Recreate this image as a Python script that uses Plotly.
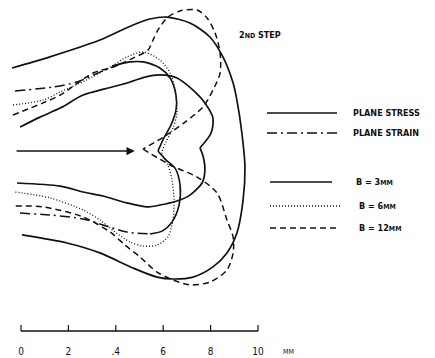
import plotly.graph_objects as go

# ---- data (mm; x from scale origin, y from crack line) ----
outer_x = [-0.38, 1.22, 3.33, 4.73, 5.44, 6.16, 7.13, 7.97, 8.52, 8.95, 9.11, 9.32, 9.45, 9.37, 9.11, 8.69, 8.10, 7.26, 6.41, 5.74, 4.73, 3.33, 1.94, 0.04]
outer_y = [3.50, 3.97, 4.68, 5.32, 5.57, 5.65, 5.40, 4.81, 3.97, 2.87, 2.15, 0.76, -0.68, -2.07, -3.46, -4.30, -4.89, -5.32, -5.40, -5.32, -4.94, -4.30, -3.88, -3.54]

inner_up_x = [-0.04, 0.80, 1.65, 2.62, 3.54, 4.47, 5.23, 5.86, 6.58, 7.26, 7.76, 8.10, 8.02, 7.55]
inner_up_y = [1.01, 1.43, 1.81, 2.36, 2.62, 2.87, 3.12, 3.21, 3.08, 2.57, 2.03, 1.39, 0.76, 0.13]
inner_lo_x = [7.55, 7.68, 7.76, 7.64, 7.13, 6.58, 5.86, 5.32, 4.47, 3.46, 2.62, 1.65, -0.17]
inner_lo_y = [0.13, -0.21, -0.80, -1.35, -1.86, -2.11, -2.28, -2.36, -2.19, -1.90, -1.73, -1.48, -1.35]

b3_up_x = [3.84, 4.60, 5.15, 5.86, 6.29, 6.54, 6.54, 6.33, 6.03, 5.78]
b3_up_y = [3.59, 3.76, 3.76, 3.50, 3.08, 2.36, 1.73, 1.10, 0.55, 0.00]
b3_lo_x = [5.78, 6.12, 6.50, 6.71, 6.67, 6.37, 5.95, 5.44]
b3_lo_y = [0.00, -0.38, -0.72, -1.43, -2.28, -3.00, -3.38, -3.50]

strain_up_x = [-0.25, 1.35, 2.36, 3.33, 4.18]
strain_up_y = [2.53, 2.70, 2.91, 3.33, 3.67]
strain_lo_x = [-0.04, 1.22, 2.62, 3.46, 4.47, 5.44]
strain_lo_y = [-2.62, -2.70, -2.87, -3.12, -3.42, -3.50]

b6_x = [-0.34, 0.93, 1.65, 2.78, 3.76, 4.47, 5.15, 5.86, 6.29, 6.50, 6.58, 6.41, 6.12, 5.95, 6.20, 6.37, 6.46, 6.41, 6.20, 5.74, 5.15, 4.60, 3.97, 3.33, 2.62, 1.22, -0.25]
b6_y = [1.94, 2.15, 2.49, 3.00, 3.54, 3.97, 4.18, 3.84, 3.29, 2.57, 1.60, 0.97, 0.38, -0.08, -0.59, -1.22, -2.07, -2.91, -3.63, -3.97, -4.01, -3.84, -3.42, -2.91, -2.49, -1.98, -1.73]

b12_up_x = [-0.34, 0.93, 1.65, 3.04, 3.88, 4.73, 5.36, 5.57, 5.78, 6.20, 6.71, 7.43, 7.85, 8.19, 8.40, 8.40, 8.10, 7.68, 6.92, 6.08, 5.15]
b12_up_y = [1.52, 2.03, 2.36, 3.29, 3.54, 3.92, 4.26, 4.68, 5.11, 5.65, 5.91, 5.95, 5.61, 4.98, 4.14, 3.29, 2.57, 1.86, 1.22, 0.63, 0.08]
b12_lo_x = [5.15, 6.29, 7.43, 8.27, 8.69, 8.95, 8.95, 8.69, 7.97, 7.13, 6.41, 5.74, 5.02, 4.39, 3.76, 2.62, 0.93, -0.25]
b12_lo_y = [0.08, -0.59, -1.10, -1.77, -2.91, -3.63, -4.30, -5.02, -5.53, -5.65, -5.44, -5.11, -4.47, -3.97, -3.42, -2.78, -2.36, -2.32]

crack_x = [-0.25, 4.80]
crack_y = [0.0, 0.0]

scale_ticks = [0, 2, 4, 6, 8, 10]
scale_labels = ["0", "2", ".4", "6", "8", "10"]
scale_unit = "MM"

legend_labels = ["PLANE STRESS", "PLANE STRAIN", "B = 3<span style='font-size:7px'>MM</span>",
                 "B = 6<span style='font-size:7px'>MM</span>", "B = 12<span style='font-size:7px'>MM</span>"]
title_text = "2<span style='font-size:7px'>ND</span> STEP"

INK = "#111111"
FONT = "Liberation Sans Narrow, DejaVu Sans Condensed, Arial Narrow, sans-serif"

fig = go.Figure()

def add(x, y, dash="solid", w=1.6, smooth=0.8):
    fig.add_trace(go.Scatter(x=x, y=y, mode="lines",
                             line=dict(color=INK, width=w, dash=dash, shape="spline", smoothing=smooth),
                             hoverinfo="skip", showlegend=False))

add(outer_x, outer_y, w=1.7)
add(inner_up_x, inner_up_y, w=1.7)
add(inner_lo_x, inner_lo_y, w=1.7)
add(b3_up_x, b3_up_y, w=1.6)
add(b3_lo_x, b3_lo_y, w=1.6)
add(strain_up_x, strain_up_y, dash="10px,4px,2px,4px", w=1.5)
add(strain_lo_x, strain_lo_y, dash="10px,4px,2px,4px", w=1.5)
add(b6_x, b6_y, dash="1px,2px", w=1.3)
add(b12_up_x, b12_up_y, dash="6px,4px", w=1.5)
add(b12_lo_x, b12_lo_y, dash="6px,4px", w=1.5)

# crack with arrow
fig.add_annotation(x=crack_x[1], y=crack_y[1], ax=crack_x[0], ay=crack_y[0],
                   xref="x", yref="y", axref="x", ayref="y", text="",
                   showarrow=True, arrowhead=2, arrowsize=1.1, arrowwidth=1.5, arrowcolor=INK)

# scale bar
bar_y = -7.59
tick_top = -7.34
label_y = -8.5
fig.add_trace(go.Scatter(x=[scale_ticks[0], scale_ticks[-1]], y=[bar_y, bar_y], mode="lines",
                         line=dict(color=INK, width=1.5), hoverinfo="skip", showlegend=False))
for t in scale_ticks:
    fig.add_trace(go.Scatter(x=[t, t], y=[bar_y, tick_top], mode="lines",
                             line=dict(color=INK, width=1.2), hoverinfo="skip", showlegend=False))
fig.add_trace(go.Scatter(x=scale_ticks, y=[label_y] * len(scale_ticks), mode="text",
                         text=scale_labels, textfont=dict(family=FONT, size=10, color=INK),
                         hoverinfo="skip", showlegend=False))
fig.add_annotation(x=11.3, y=label_y, xref="x", yref="y", text=scale_unit, showarrow=False,
                   font=dict(family=FONT, size=7, color=INK))

# title text
fig.add_annotation(x=237/435, y=1-35/358, xref="paper", yref="paper", text="<b>" + title_text + "</b>",
                   showarrow=False, xanchor="left", yanchor="middle",
                   font=dict(family=FONT, size=9, color=INK))

# legend samples
leg_rows = [113, 133, 182, 206, 228]
leg_dash = ["solid", "10px,4px,2px,4px", "solid", "1px,2px", "6px,4px"]
leg_x0 = [267, 267, 270, 270, 270]
leg_x1 = [337, 337, 332, 340, 336]
leg_tx = [351, 351, 354, 357, 357]
for r, d, a, b, tx, lab in zip(leg_rows, leg_dash, leg_x0, leg_x1, leg_tx, legend_labels):
    fig.add_shape(type="line", xref="paper", yref="paper", x0=a/435, x1=b/435, y0=1-r/358, y1=1-r/358,
                  line=dict(color=INK, width=1.4, dash=d))
    fig.add_annotation(x=tx/435, y=1-r/358, xref="paper", yref="paper", text="<b>" + lab + "</b>",
                       showarrow=False, xanchor="left", yanchor="middle",
                       font=dict(family=FONT, size=9, color=INK))

px_mm = 23.7
fig.update_layout(
    width=435, height=358, margin=dict(l=0, r=0, t=0, b=0),
    paper_bgcolor="white", plot_bgcolor="white",
    xaxis=dict(range=[-21/px_mm, (435-21)/px_mm], visible=False, fixedrange=True),
    yaxis=dict(range=[-(358-151)/px_mm, 151/px_mm], visible=False, fixedrange=True),
)

fig.write_html("out.html", config={"displayModeBar": False, "staticPlot": True},
               post_script="document.body.style.margin='0';document.body.style.overflow='hidden';")
